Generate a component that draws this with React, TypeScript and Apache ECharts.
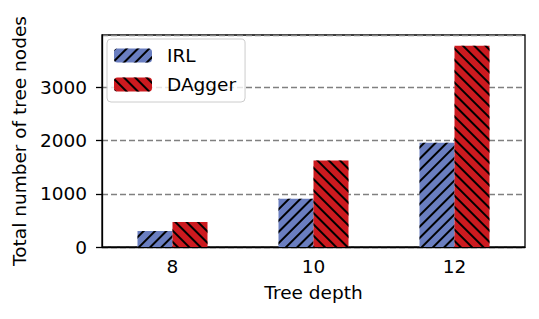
import React, { useEffect, useRef } from "react";
import * as echarts from "echarts";

const categories = ["8", "10", "12"];
const irlValues = [300, 910, 1960];
const daggerValues = [470, 1630, 3790];
const seriesNames = ["IRL", "DAgger"];

const FONT = "DejaVu Sans";
const FS = 18.5;

export default function App() {
  const ref = useRef<HTMLDivElement>(null);
  useEffect(() => {
    if (!ref.current) return;
    const chart = echarts.init(ref.current, undefined, { renderer: "svg" });
    const hatch = (rot: number) => ({
      symbol: "rect",
      symbolSize: 1,
      dashArrayX: [1, 0],
      dashArrayY: [2, 6],
      rotation: rot,
      color: "#000",
    });
    chart.setOption({
      animation: false,
      textStyle: { fontFamily: FONT },
      grid: {
        left: 102,
        right: 14,
        top: 35,
        bottom: 72,
        show: true,
        borderColor: "#000",
        borderWidth: 1.3,
        backgroundColor: "transparent",
      },
      legend: {
        orient: "vertical",
        left: 107,
        top: 39,
        itemWidth: 38,
        itemHeight: 14,
        itemGap: 10,
        padding: [7, 9, 8, 7],
        backgroundColor: "rgba(255,255,255,0.8)",
        borderColor: "#cccccc",
        borderWidth: 1,
        borderRadius: 4,
        textStyle: {
          fontFamily: FONT,
          fontSize: FS,
          color: "#000",
          lineHeight: 19,
          padding: [0, 0, 0, 10],
        },
        data: seriesNames,
      },
      xAxis: {
        type: "category",
        data: categories,
        name: "Tree depth",
        nameLocation: "middle",
        nameGap: 36,
        nameTextStyle: { fontFamily: FONT, fontSize: FS, color: "#000" },
        axisLine: { lineStyle: { color: "#000", width: 1.3 } },
        axisTick: { alignWithLabel: true, length: 6, lineStyle: { color: "#000", width: 1.3 } },
        axisLabel: { fontFamily: FONT, fontSize: FS, color: "#000", margin: 10 },
      },
      yAxis: {
        type: "value",
        min: 0,
        max: 3990,
        interval: 1000,
        name: "Total number of tree nodes",
        nameLocation: "middle",
        nameGap: 62,
        nameTextStyle: { fontFamily: FONT, fontSize: FS, color: "#000" },
        axisLine: { show: true, lineStyle: { color: "#000", width: 1.3 } },
        axisTick: { show: true, length: 6, lineStyle: { color: "#000", width: 1.3 } },
        axisLabel: {
          fontFamily: FONT,
          fontSize: FS,
          color: "#000",
          margin: 15,
          showMaxLabel: false,
          formatter: (v: number) => String(v),
        },
        splitLine: {
          show: true,
          lineStyle: { color: "#808080", type: [6, 3], width: 1.3 },
        },
      },
      series: [
        {
          name: seriesNames[0],
          type: "bar",
          data: irlValues,
          barWidth: 35,
          barGap: "0%",
          itemStyle: { color: "#6a7ec0", decal: hatch(-Math.PI / 4) },
        },
        {
          name: seriesNames[1],
          type: "bar",
          data: daggerValues,
          barWidth: 35,
          barGap: "0%",
          itemStyle: { color: "#cc1a1f", decal: hatch(Math.PI / 4) },
        },
      ],
    });
    return () => chart.dispose();
  }, []);
  return <div ref={ref} style={{ width: 539, height: 319, position: "absolute", left: 0, top: 0 }} />;
}
